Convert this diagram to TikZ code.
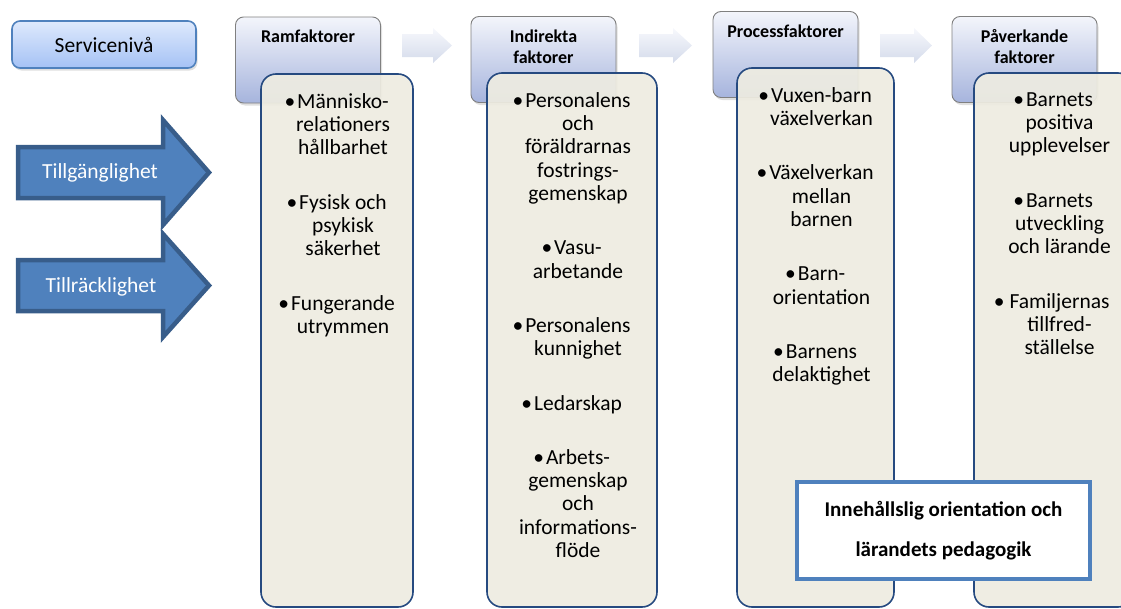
\documentclass[tikz,border=0pt]{standalone}
\usepackage{fontspec}
\setmainfont{Carlito}
\usetikzlibrary{shadows}

\definecolor{hdrtop}{RGB}{243,245,251}
\definecolor{hdrbot}{RGB}{166,180,221}
\definecolor{hdrline}{RGB}{128,128,128}
\definecolor{servtop}{RGB}{222,233,252}
\definecolor{servbot}{RGB}{165,194,245}
\definecolor{officeblue}{RGB}{79,129,189}
\definecolor{darkblue}{RGB}{56,93,138}
\definecolor{listfill}{RGB}{238,236,225}
\definecolor{listline}{RGB}{38,74,128}
\definecolor{arrtop}{RGB}{247,248,252}
\definecolor{arrbot}{RGB}{212,219,235}

\begin{document}
\begin{tikzpicture}[x=1pt,y=-1pt,
    hdrbox/.style={draw=hdrline, line width=0.9pt, rounded corners=8pt,
      top color=hdrtop, bottom color=hdrbot, minimum width=145pt, minimum height=86pt,
      drop shadow={shadow xshift=1.5pt, shadow yshift=-2.5pt, opacity=0.25}},
    hdrtxt/.style={anchor=north, align=center, inner sep=0pt, yshift=-13.5pt,
      font=\fontsize{18}{21}\selectfont\bfseries},
    listbox/.style={draw=listline, line width=1.6pt, rounded corners=15pt,
      fill=listfill, fill opacity=0.92},
    listtxt/.style={anchor=north, align=center, inner sep=0pt, xshift=6pt, yshift=-20pt,
      font=\fontsize{21.5}{23.3}\selectfont},
    bluearrow/.style={draw=darkblue, line width=4.5pt, fill=officeblue},
    arrtxt/.style={text=white, font=\fontsize{21.5}{24}\selectfont},
    grayarrow/.style={top color=arrtop, bottom color=arrbot}]

  \useasboundingbox (0,0) rectangle (1121,608);

  % servicenivå
  \node[draw=officeblue, line width=1.6pt, rounded corners=8pt, top color=servtop,
    bottom color=servbot, minimum width=184pt, minimum height=47pt,
    drop shadow={shadow xshift=1.5pt, shadow yshift=-2.5pt, opacity=0.25},
    font=\fontsize{21.5}{24}\selectfont] (service) at (104,44.5) {Servicenivå};

  % tillgänglighet och tillräcklighet
  \draw[bluearrow] (18,147) -- (163,147) -- (163,120) -- (209,172.5)
    -- (163,225) -- (163,198) -- (18,198) -- cycle;
  \draw[bluearrow] (18,260) -- (163,260) -- (163,234) -- (209,285.5)
    -- (163,337) -- (163,311) -- (18,311) -- cycle;
  \node[arrtxt] (tillg) at (100,173) {Tillgänglighet};
  \node[arrtxt] (tillr) at (101,287) {Tillräcklighet};

  % faktorer
  \node[hdrbox] (ram) at (308,60) {};
  \node[hdrbox] (ind) at (543.5,59.5) {};
  \node[hdrbox] (proc) at (785.5,54.5) {};
  \node[hdrbox] (pav) at (1024.5,59.5) {};
  \node[hdrtxt] (ramTxt) at (ram.north) {Ramfaktorer};
  \node[hdrtxt] (indTxt) at (ind.north) {Indirekta\\faktorer};
  \node[hdrtxt] (procTxt) at (proc.north) {Processfaktorer};
  \node[hdrtxt] (pavTxt) at (pav.north) {Påverkande\\faktorer};

  \shade[grayarrow] (402,34) -- (433,34) -- (433,28) -- (452,45.5)
    -- (433,63) -- (433,57) -- (402,57) -- cycle;
  \shade[grayarrow] (639,34) -- (673,34) -- (673,28) -- (692,45.5)
    -- (673,63) -- (673,57) -- (639,57) -- cycle;
  \shade[grayarrow] (880,34) -- (914,34) -- (914,28) -- (932,45.5)
    -- (914,63) -- (914,57) -- (880,57) -- cycle;

  % listor
  \node[listbox, minimum width=152pt, minimum height=533pt] (ramBox) at (337,340.5) {};
  \node[listbox, minimum width=170pt, minimum height=534pt] (indBox) at (572,340) {};
  \node[listbox, minimum width=157pt, minimum height=539pt] (procBox) at (815.5,337.5) {};
  \node[listbox, minimum width=159pt, minimum height=534pt] (pavBox) at (1053.5,340) {};

  \node[listtxt] (ramList) at (ramBox.north) {\llap{•\hspace{2pt}}Människo-\\relationers\\hållbarhet\\[31pt]
    \llap{•\hspace{2pt}}Fysisk och\\psykisk\\säkerhet\\[31pt]
    \llap{•\hspace{2pt}}Fungerande\\utrymmen};
  \node[listtxt] (indList) at (indBox.north) {\llap{•\hspace{2pt}}Personalens\\och\\föräldrarnas\\fostrings-\\gemenskap\\[31pt]
    \llap{•\hspace{2pt}}Vasu-\\arbetande\\[31pt]
    \llap{•\hspace{2pt}}Personalens\\kunnighet\\[31pt]
    \llap{•\hspace{2pt}}Ledarskap\\[31pt]
    \llap{•\hspace{2pt}}Arbets-\\gemenskap\\och\\informations-\\flöde};
  \node[listtxt] (procList) at (procBox.north) {\llap{•\hspace{2pt}}Vuxen-barn\\växelverkan\\[31pt]
    \llap{•\hspace{2pt}}Växelverkan\\mellan\\barnen\\[31pt]
    \llap{•\hspace{2pt}}Barn-\\orientation\\[31pt]
    \llap{•\hspace{2pt}}Barnens\\delaktighet};
  \node[listtxt] (pavList) at (pavBox.north) {\llap{•\hspace{2pt}}Barnets\\positiva\\upplevelser\\[31pt]
    \llap{•\hspace{2pt}}Barnets\\utveckling\\och lärande\\[31pt]
    \llap{•\ }Familjernas\\tillfred-\\ställelse};

  % innehåll
  \node[draw=officeblue, line width=4.5pt, fill=white, minimum width=293pt,
    minimum height=97pt, align=center, font=\fontsize{21}{40}\selectfont\bfseries]
    (innehall) at (943.5,530.5) {Innehållslig orientation och\\lärandets pedagogik};
\end{tikzpicture}
\end{document}
